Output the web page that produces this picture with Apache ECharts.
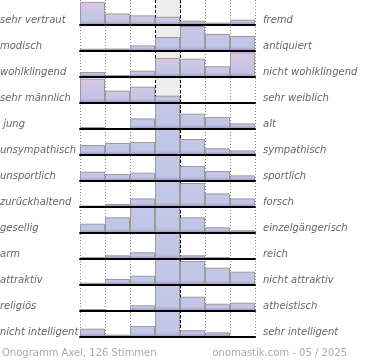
<!DOCTYPE html>
<html><head><meta charset="utf-8">
<script src="https://cdn.jsdelivr.net/npm/echarts@6/dist/echarts.min.js"></script>
<style>html,body{margin:0;padding:0;background:#fff}#c{width:370px;height:360px}</style>
</head><body><div id="c"></div>
<script>
const leftLabels = ['sehr vertraut','modisch','wohlklingend','sehr männlich',' jung','unsympathisch','unsportlich','zurückhaltend','gesellig','arm','attraktiv','religiös','nicht intelligent'];
const rightLabels = ['fremd','antiquiert','nicht wohlklingend','sehr weiblich','alt','sympathisch','sportlich','forsch','einzelgängerisch','reich','nicht attraktiv','atheistisch','sehr intelligent'];
const columns = ['1','2','3','4','5','6','7'];
const row01 = [24,12,10,8.5,4.5,2.5,5.5];
const row02 = [2.3,2.5,5.6,14,25,17,15];
const row03 = [5,2,6.3,19,18.3,10.7,24.7];
const row04 = [24.3,12.3,16.3,7.3,1,0,0];
const row05 = [2,0,10.6,26,15.3,12,5.6];
const row06 = [10,12,13,26,16,6.7,4.6];
const row07 = [9.3,7,8.3,26,15,10,5.6];
const row08 = [1.5,3,8.6,26,24,13.6,8.6];
const row09 = [9.3,15.7,26,26,15.7,5.7,2.7];
const row10 = [2,3.7,6.7,26,3.7,2,0];
const row11 = [2.3,6,9.3,26,24,17.3,13.3];
const row12 = [2,0,5.7,26,14.3,7.3,8.3];
const row13 = [8.3,2.3,11,26,6.7,4.6,0];
const footerLeft = 'Onogramm Axel, 126 Stimmen';
const footerRight = 'onomastik.com - 05 / 2025';

const rows = [row01,row02,row03,row04,row05,row06,row07,row08,row09,row10,row11,row12,row13];
const ROW_H = 26, LEFT = 80, WIDTH = 175, TOP0 = -1, MAXV = 26;

const chart = echarts.init(document.getElementById('c'), null, {renderer:'canvas'});
const grid = [], xAxis = [], yAxis = [], series = [], graphic = [];

grid.push({left: LEFT, top: 0, width: WIDTH, height: TOP0 + ROW_H*rows.length + 1});
xAxis.push({type:'value', gridIndex:0, min:0, max:7, interval:1, axisLine:{show:false}, axisTick:{show:false}, axisLabel:{show:false},
  splitLine:{show:true, lineStyle:{color:'#888', type:[1,2], width:1}}});
yAxis.push({type:'value', gridIndex:0, min:0, max:1, show:false, splitLine:{show:false}});
series.push({type:'line', xAxisIndex:0, yAxisIndex:0, data:[], z:0, silent:true,
  markArea:{silent:true, itemStyle:{color:'#ededed'}, data:[[{xAxis:3},{xAxis:4}]]}});
series.push({type:'line', xAxisIndex:0, yAxisIndex:0, data:[], z:20, silent:true,
  markLine:{silent:true, symbol:'none', label:{show:false}, lineStyle:{color:'#000', type:[3,2], width:1}, data:[{xAxis:3},{xAxis:4}]}});

rows.forEach((vals, i) => {
  const gi = i + 1;
  const maxIdx = vals.indexOf(Math.max(...vals));
  const pinkRow = (maxIdx === 0 || maxIdx === vals.length - 1);
  grid.push({left: LEFT, top: TOP0 + ROW_H*i, width: WIDTH, height: ROW_H});
  xAxis.push({type:'category', gridIndex:gi, data:columns, boundaryGap:true,
    axisLine:{show:true, onZero:false, lineStyle:{color:'#000', width:2}}, axisTick:{show:false}, axisLabel:{show:false}, splitLine:{show:false}, z:15});
  yAxis.push({type:'value', gridIndex:gi, min:0, max:MAXV, show:false, splitLine:{show:false}});
  series.push({type:'bar', xAxisIndex:gi, yAxisIndex:gi, data:vals, barWidth:'100%', barGap:'0%', z:5, silent:true,
    itemStyle:{
      borderColor:'#9a9a9a', borderWidth:1,
      color: function(p){
        const h = Math.max(p.value, 0.5) * (ROW_H/MAXV);
        const darkStart = Math.max(0, 1 - 3/h);
        const top = pinkRow && p.value > 8 ? '#dbc5e3' : '#c4c6e6';
        return new echarts.graphic.LinearGradient(0,0,0,1,[
          {offset:0, color: top},
          {offset: Math.max(0, darkStart*0.9), color:'#c0c6e6'},
          {offset: darkStart, color:'#bab8de'},
          {offset:1, color:'#9d8cc0'}
        ]);
      }
    }});
  const base = TOP0 + ROW_H*(i+1);
  graphic.push({type:'text', left:0, top: base - 10, style:{text:leftLabels[i], font:'italic 10px "DejaVu Sans"', fill:'#666'}});
  graphic.push({type:'text', left:263, top: base - 10, style:{text:rightLabels[i], font:'italic 10px "DejaVu Sans"', fill:'#666'}});
});

graphic.push({type:'text', left:2, top:348, style:{text:footerLeft, font:'10px "DejaVu Sans"', fill:'#aaa'}});
graphic.push({type:'text', right:23, top:348, style:{text:footerRight, font:'10px "DejaVu Sans"', fill:'#aaa'}});

chart.setOption({animation:false, grid, xAxis, yAxis, series, graphic});
</script></body></html>
